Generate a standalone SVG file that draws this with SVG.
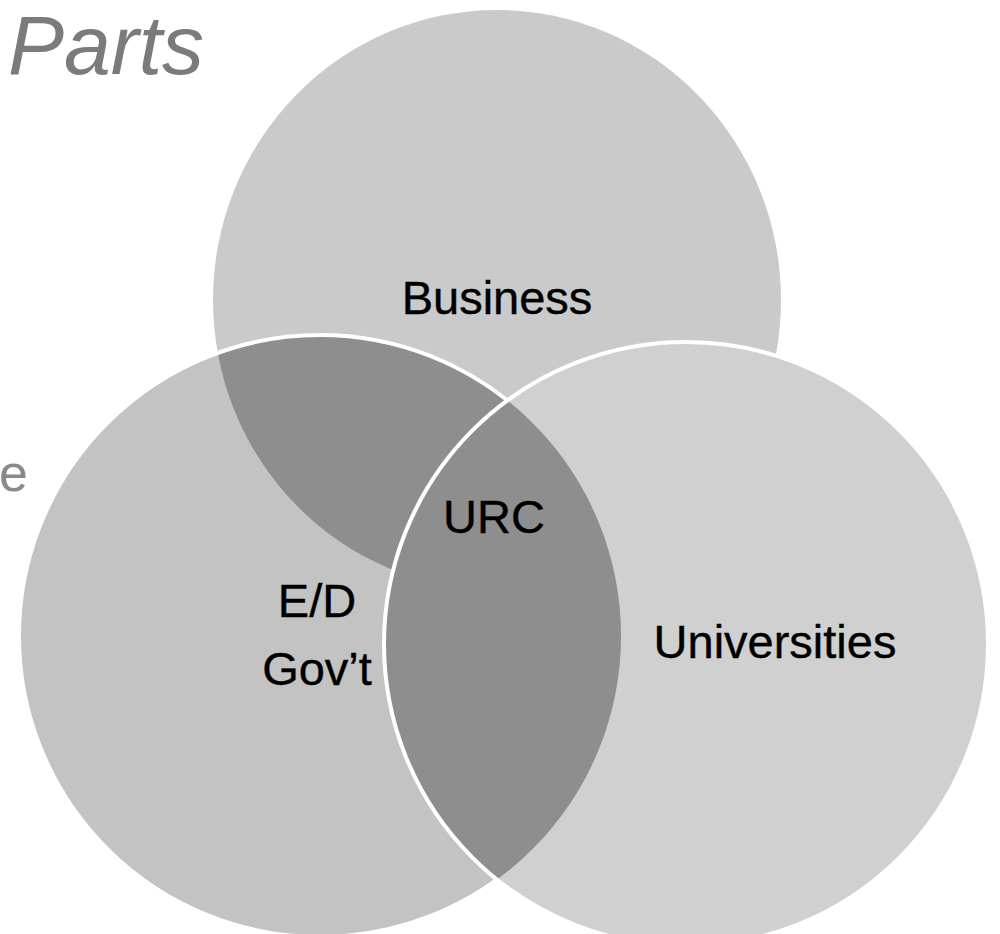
<svg xmlns="http://www.w3.org/2000/svg" width="1000" height="934" viewBox="0 0 1000 934">
  <style>
    .lbl { font-family: "Liberation Sans", Arial, sans-serif; font-size: 47px; fill: #000; stroke: #000; stroke-width: 0.4; text-anchor: middle; }
    .title { font-family: "Liberation Sans", Arial, sans-serif; font-style: italic; fill: #7b7b7b; }
    .dark { fill: #8e8e8e; }
    .outline { fill: none; stroke: #ffffff; stroke-width: 4; }
  </style>
  <defs>
    <clipPath id="clipLeft"><circle cx="320" cy="636" r="301"/></clipPath>
    <clipPath id="clipRight"><circle cx="686" cy="644" r="302"/></clipPath>
  </defs>
  <rect x="0" y="0" width="1000" height="934" fill="#ffffff"/>
  <g id="title">
    <text class="title" x="8" y="74" font-size="84">Parts</text>
    <text x="-1" y="491" font-size="52" fill="#8a8a8a" font-family="Liberation Sans, Arial, sans-serif">e</text>
  </g>
  <g id="business">
    <ellipse cx="497" cy="300" rx="284" ry="290" fill="#cacaca"/>
    <text class="lbl" x="497" y="314">Business</text>
  </g>
  <g id="ed-govt">
    <circle cx="320" cy="636" r="301" fill="#c3c3c3"/>
    <text class="lbl" x="317" y="617">E/D</text>
    <text class="lbl" x="317" y="685">Gov’t</text>
  </g>
  <g id="business-govt-overlap">
    <ellipse class="dark" cx="497" cy="300" rx="284" ry="290" clip-path="url(#clipLeft)"/>
  </g>
  <g id="connectors">
    <circle class="outline" cx="320" cy="636" r="301"/>
  </g>
  <g id="universities">
    <circle cx="686" cy="644" r="302" fill="#d0d0d0"/>
    <text class="lbl" x="775" y="658">Universities</text>
  </g>
  <g id="urc">
    <circle class="dark" cx="320" cy="636" r="301" clip-path="url(#clipRight)"/>
    <circle class="outline" cx="686" cy="644" r="302"/>
    <text class="lbl" x="494" y="533" font-size="50">URC</text>
  </g>
</svg>
